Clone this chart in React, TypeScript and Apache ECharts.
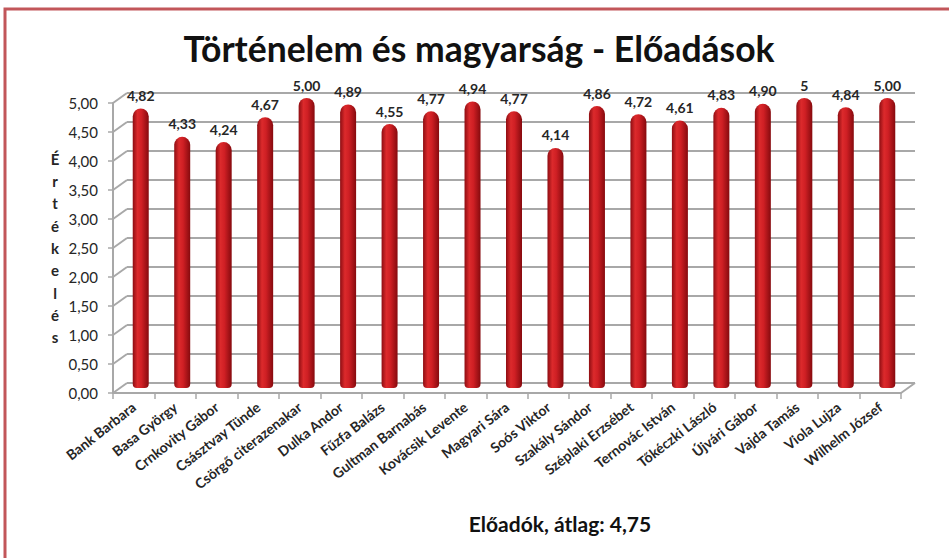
import React, { useEffect, useRef } from "react";
import * as echarts from "echarts";

const categories = [
  "Bank Barbara", "Basa György", "Crnkovity Gábor", "Császtvay Tünde", "Csörgő citerazenakar",
  "Dulka Andor", "Fűzfa Balázs", "Gultman Barnabás", "Kovácsik Levente", "Magyari Sára",
  "Soós Viktor", "Szakály Sándor", "Széplaki Erzsébet", "Ternovác István", "Tőkéczki László",
  "Újvári Gábor", "Vajda Tamás", "Viola Lujza", "Wilhelm József",
];
const values = [4.82, 4.33, 4.24, 4.67, 5.0, 4.89, 4.55, 4.77, 4.94, 4.77, 4.14, 4.86, 4.72, 4.61, 4.83, 4.9, 5, 4.84, 5.0];
const valueLabels = ["4,82", "4,33", "4,24", "4,67", "5,00", "4,89", "4,55", "4,77", "4,94", "4,77", "4,14", "4,86", "4,72", "4,61", "4,83", "4,90", "5", "4,84", "5,00"];
const yTickLabels = ["0,00", "0,50", "1,00", "1,50", "2,00", "2,50", "3,00", "3,50", "4,00", "4,50", "5,00"];
const title = "Történelem és magyarság - Előadások";
const xAxisTitle = "Előadók, átlag: 4,75";
const yAxisTitle = "Értékelés";

const FONT = "Lato, 'Noto Sans', sans-serif";
const W = 949;
const H = 558;
// front plane
const F = { left: 113, right: 901, top: 103, bottom: 393 };
// depth offset
const DX = 14;
const DY = -10;
const GRID_COLOR = "#a8a8a8";

export default function App() {
  const ref = useRef<HTMLDivElement>(null);
  useEffect(() => {
    if (!ref.current) return;
    const chart = echarts.init(ref.current, null, { renderer: "svg" });
    const back = { left: F.left + DX, right: F.right + DX, top: F.top + DY, bottom: F.bottom + DY };
    const mid = { left: F.left + DX / 2, right: F.right + DX / 2, top: F.top + DY / 2, bottom: F.bottom + DY / 2 };
    const maxV = 5;
    const step = 0.5;
    const nTicks = Math.round(maxV / step);
    const wallLines: any[] = [];
    for (let i = 0; i <= nTicks; i++) {
      const y = F.bottom - (i / nTicks) * (F.bottom - F.top);
      wallLines.push({
        type: "line",
        shape: { x1: F.left, y1: y, x2: F.left + DX, y2: y + DY },
        style: { stroke: GRID_COLOR, lineWidth: 2 },
        silent: true,
      });
    }
    wallLines.push({
      type: "line",
      shape: { x1: F.right, y1: F.bottom, x2: F.right + DX, y2: F.bottom + DY },
      style: { stroke: GRID_COLOR, lineWidth: 2 },
      silent: true,
    });
    chart.setOption({
      animation: false,
      backgroundColor: "#ffffff",
      title: {
        text: title,
        left: 474,
        top: 25,
        textAlign: "center",
        textStyle: { fontFamily: FONT, fontWeight: "bold", fontSize: 35.5, color: "#111" },
      },
      grid: [
        { left: back.left, right: W - back.right, top: back.top, bottom: H - back.bottom },
        { left: F.left, right: W - F.right, top: F.top, bottom: H - F.bottom },
        { left: mid.left, right: W - mid.right, top: mid.top, bottom: H - mid.bottom },
      ],
      xAxis: [
        { gridIndex: 0, type: "category", data: categories, show: false },
        {
          gridIndex: 1,
          type: "category",
          data: categories,
          axisLine: { lineStyle: { color: GRID_COLOR, width: 2 } },
          axisTick: { show: true, length: 6, lineStyle: { color: GRID_COLOR, width: 1.5 } },
          axisLabel: {
            rotate: 38,
            interval: 0,
            margin: 12,
            fontFamily: FONT,
            fontWeight: "bold",
            fontSize: 14,
            color: "#262626",
          },
        },
        { gridIndex: 2, type: "category", data: categories, show: false },
      ],
      yAxis: [
        {
          gridIndex: 0,
          type: "value",
          min: 0,
          max: maxV,
          interval: step,
          axisLabel: { show: false },
          axisLine: { show: false },
          axisTick: { show: false },
          splitLine: { lineStyle: { color: GRID_COLOR, width: 2 } },
        },
        {
          gridIndex: 1,
          type: "value",
          min: 0,
          max: maxV,
          interval: step,
          axisLine: { show: true, lineStyle: { color: GRID_COLOR, width: 2 } },
          axisTick: { show: true, length: 5, lineStyle: { color: GRID_COLOR, width: 1.5 } },
          splitLine: { show: false },
          axisLabel: {
            margin: 15,
            fontFamily: FONT,
            fontSize: 15,
            color: "#262626",
            formatter: (v: number) => yTickLabels[Math.round(v / step)] ?? "",
          },
        },
        { gridIndex: 2, type: "value", min: 0, max: maxV, show: false },
      ],
      series: [
        {
          type: "bar",
          xAxisIndex: 2,
          yAxisIndex: 2,
          data: values,
          barWidth: 16,
          itemStyle: {
            borderRadius: [8, 8, 4, 4],
            color: new echarts.graphic.LinearGradient(0, 0, 1, 0, [
              { offset: 0, color: "#8e0d12" },
              { offset: 0.3, color: "#dc2a2c" },
              { offset: 0.55, color: "#cf1f24" },
              { offset: 1, color: "#860a0e" },
            ]),
          },
          label: {
            show: true,
            position: "top",
            distance: 6,
            fontFamily: FONT,
            fontWeight: "bold",
            fontSize: 14,
            color: "#262626",
            formatter: (p: any) => valueLabels[p.dataIndex],
          },
        },
      ],
      graphic: [
        {
          type: "rect",
          shape: { x: 5, y: 9, width: W + 20, height: H + 20 },
          style: { fill: "none", stroke: "#c2565a", lineWidth: 3 },
          silent: true,
          z: -1,
        },
        ...wallLines,
        {
          type: "text",
          x: 55,
          y: 248,
          style: {
            text: yAxisTitle.split("").join("\n"),
            fontFamily: FONT,
            fontWeight: "bold",
            fontSize: 15,
            lineHeight: 22.3,
            fill: "#262626",
            align: "center",
            verticalAlign: "middle",
          },
        },
        {
          type: "text",
          x: 560,
          y: 523,
          style: {
            text: xAxisTitle,
            fontFamily: FONT,
            fontWeight: "bold",
            fontSize: 21,
            fill: "#111",
            align: "center",
            verticalAlign: "middle",
          },
        },
      ],
    });
    return () => chart.dispose();
  }, []);
  return <div ref={ref} style={{ width: W, height: H, position: "absolute", left: 0, top: 0 }} />;
}
